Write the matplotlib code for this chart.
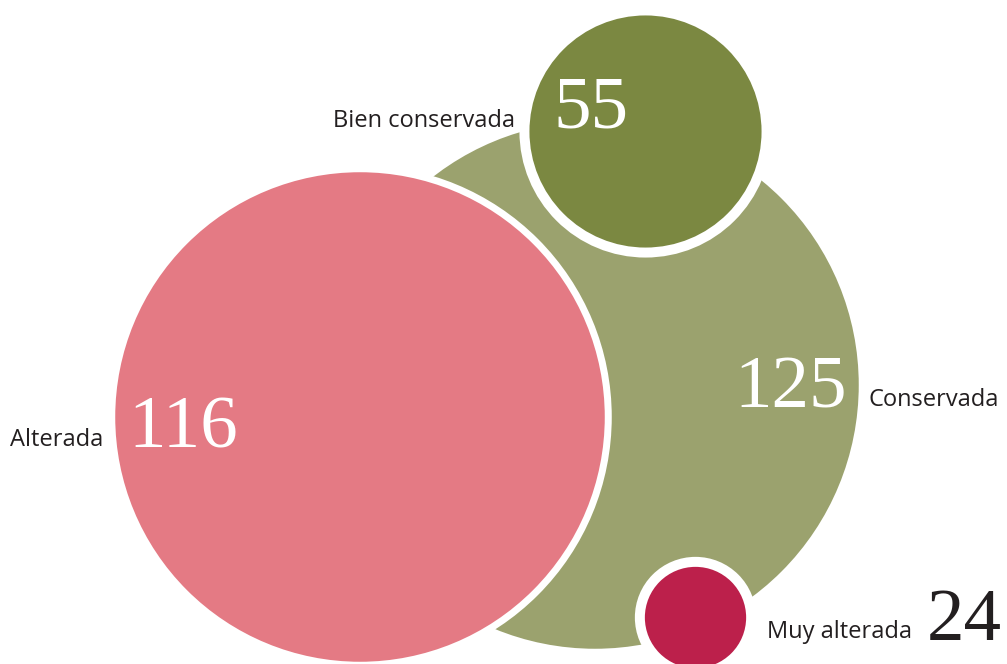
import matplotlib
matplotlib.use("Agg")
import matplotlib.pyplot as plt
from matplotlib.patches import Circle

# Data
categories = ["Conservada", "Alterada", "Bien conservada", "Muy alterada"]
values = [125, 116, 55, 24]
value_labels = ["125", "116", "55", "24"]

# Layout (pixel coordinates)
W, H = 1007, 664
scale = 2.11  # px of radius per unit
centers = [(595, 385), (360, 417), (645.5, 131.5), (695.5, 617.5)]
colors = ["#9BA26E", "#E47A84", "#7B8841", "#BC204B"]
rings = [0, 7, 10, 10]
num_pos = [(791, 407), (183, 447), (591, 127), (964, 640)]
num_colors = ["white", "white", "white", "#231F20"]
lab_pos = [(869, 406, "left"), (103, 446, "right"), (515, 127, "right"), (767, 638, "left")]

fig = plt.figure(figsize=(W / 100, H / 100), dpi=100)
ax = fig.add_axes([0, 0, 1, 1])
ax.set_xlim(0, W)
ax.set_ylim(H, 0)
ax.set_aspect("equal")
ax.axis("off")

for i, (v, c, col, ring) in enumerate(zip(values, centers, colors, rings)):
    r = v * scale
    if ring:
        ax.add_patch(Circle(c, r + ring, facecolor="white", edgecolor="none", zorder=2 * i + 1))
    ax.add_patch(Circle(c, r, facecolor=col, edgecolor="none", zorder=2 * i + 2))

for txt, (x, y), tc in zip(value_labels, num_pos, num_colors):
    ax.text(x, y, txt, fontsize=54, family="Liberation Serif", color=tc,
            ha="center", va="baseline", zorder=20)

for cat, (x, y, ha) in zip(categories, lab_pos):
    ax.text(x, y, cat, fontsize=17, family="Open Sans", color="#231F20",
            ha=ha, va="baseline", zorder=20)

fig.savefig("out.png", dpi=100)
